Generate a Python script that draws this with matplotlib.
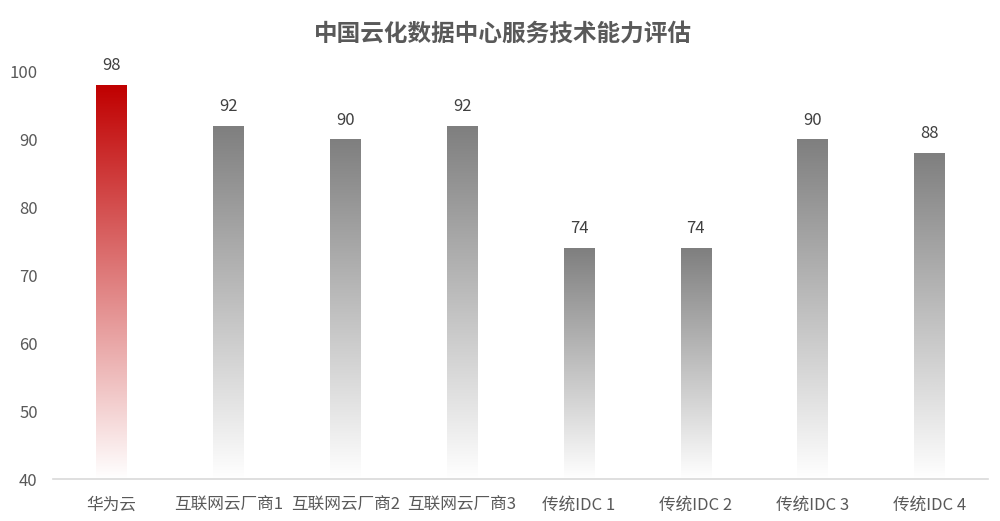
import numpy as np
import matplotlib.pyplot as plt
from matplotlib.colors import LinearSegmentedColormap

plt.rcParams['font.family'] = ['Noto Sans CJK SC', 'DejaVu Sans']

# Chart data
categories = ['华为云', '互联网云厂商1', '互联网云厂商2', '互联网云厂商3',
              '传统IDC 1', '传统IDC 2', '传统IDC 3', '传统IDC 4']
scores = [98, 92, 90, 92, 74, 74, 90, 88]
y_ticks = [40, 50, 60, 70, 80, 90, 100]

# Gradients: dark at top, fading to white at the base
red_cmap = LinearSegmentedColormap.from_list('red_fade', ['#ffffff', '#c00000'])
gray_cmap = LinearSegmentedColormap.from_list('gray_fade', ['#ffffff', '#7f7f7f'])
gradient = np.linspace(0, 1, 256).reshape(-1, 1)

fig = plt.figure(figsize=(10, 5.21), dpi=100)
ax = fig.add_axes([0.053, 0.0806, 0.935, 0.7815])

base = 40
bar_width = 0.26
x = np.arange(len(categories))

for i, (xi, val) in enumerate(zip(x, scores)):
    cmap = red_cmap if i == 0 else gray_cmap
    ax.imshow(gradient, cmap=cmap, origin='lower', aspect='auto',
              extent=[xi - bar_width / 2, xi + bar_width / 2, base, val],
              interpolation='bicubic', zorder=2)
    ax.annotate(str(val), (xi, val), xytext=(0, 8), textcoords='offset points',
                ha='center', va='bottom', fontsize=12, color='#404040')

ax.set_xlim(-0.5, len(categories) - 0.5)
ax.set_ylim(base, 100)
ax.set_xticks(x)
ax.set_xticklabels(categories, fontsize=12, color='#595959')
ax.set_yticks(y_ticks)
ax.tick_params(axis='y', labelsize=12, labelcolor='#595959', length=0, pad=11)
ax.tick_params(axis='x', length=0, pad=13)

for side in ['top', 'right', 'left']:
    ax.spines[side].set_visible(False)
ax.spines['bottom'].set_color('#d9d9d9')
ax.spines['bottom'].set_linewidth(1.2)

fig.text(0.503, 0.935, '中国云化数据中心服务技术能力评估', ha='center', va='center',
         fontsize=17, fontweight='bold', color='#595959')

fig.savefig('out.png', dpi=100)
